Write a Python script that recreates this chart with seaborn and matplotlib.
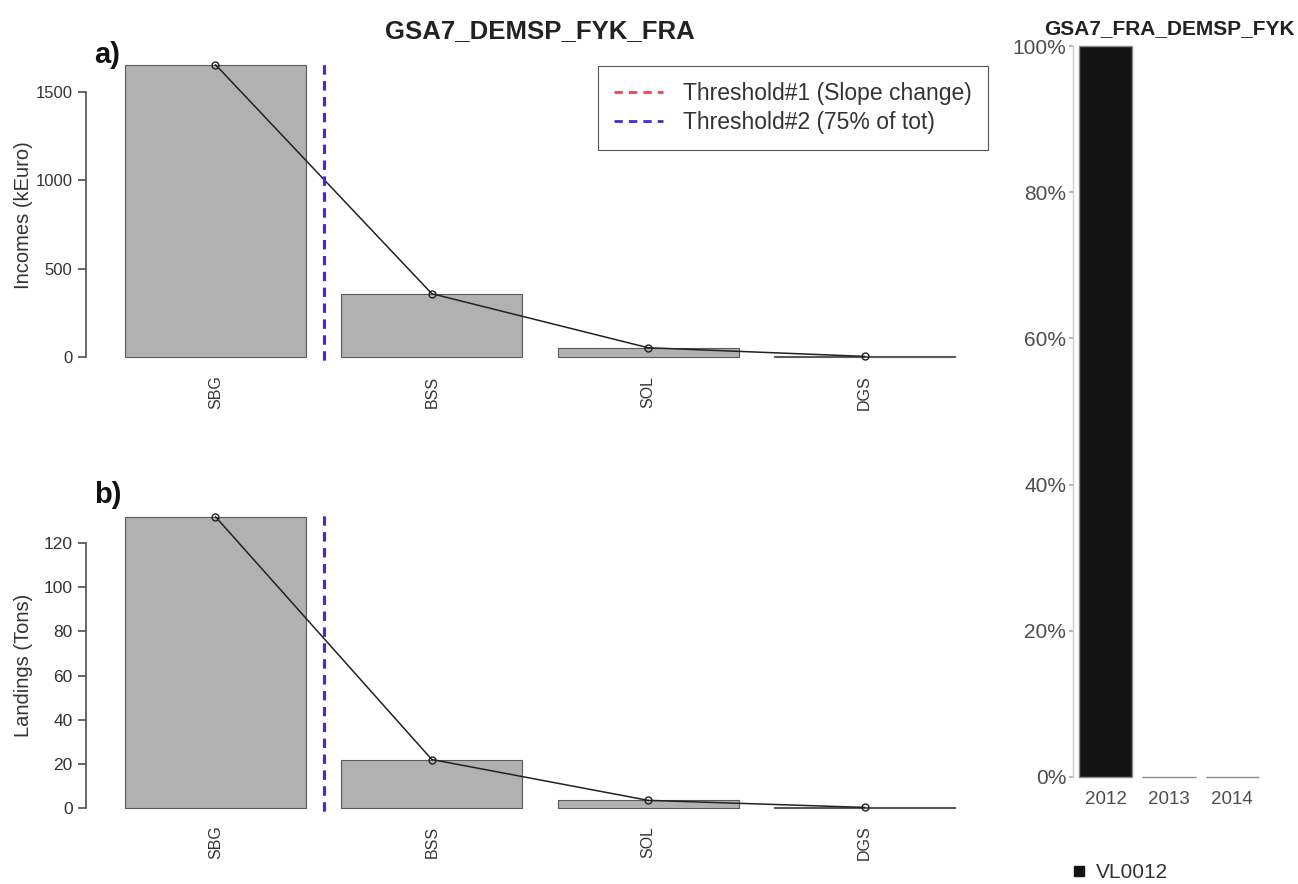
import numpy as np
import matplotlib
matplotlib.use('Agg')
import matplotlib.pyplot as plt
import seaborn as sns
from matplotlib.lines import Line2D

# data
species = ['SBG', 'BSS', 'SOL', 'DGS']
incomes = [1655, 358, 52, 3]        # kEuro
landings = [132, 22, 3.5, 0.3]      # Tons
years = ['2012', '2013', '2014']
share_vl0012 = [1.0, 0.0, 0.0]
threshold_pos = 0.5                 # between SBG and BSS

sns.set_theme(style='white')
plt.rcParams['font.family'] = ['Liberation Sans', 'DejaVu Sans']

fig = plt.figure(figsize=(12.98, 8.84), dpi=100)
W, H = 1298, 884

def fig_rect(x0, y0, x1, y1):
    return [x0 / W, 1 - y1 / H, (x1 - x0) / W, (y1 - y0) / H]

ax_a = fig.add_axes(fig_rect(110, 60, 970, 370))
ax_b = fig.add_axes(fig_rect(110, 510, 970, 820))
ax_c = fig.add_axes(fig_rect(1073, 46, 1265, 777))

bar_grey = '#b1b1b1'
dash = (0, (3, 2.2))

def species_panel(ax, vals, ylabel, ylim, ticks, vspan, tick_fs, lpad):
    sns.barplot(x=species, y=vals, ax=ax, color=bar_grey, saturation=1,
                width=0.835, edgecolor='#5a5a5a', linewidth=0.8)
    ax.plot(np.arange(len(species)), vals, color='#222222', lw=1.1,
            marker='o', ms=5, mfc='none', mec='#222222', mew=1)
    ax.vlines(threshold_pos, vspan[0], vspan[1], color='#e8474f', ls=dash, lw=2.2)
    ax.vlines(threshold_pos, vspan[0], vspan[1], color='#3b2fd6', ls=dash, lw=2.2)
    ax.set_xlim(-0.487, 3.487)
    ax.set_ylim(*ylim)
    ax.set_yticks(ticks)
    for s in ['top', 'right', 'bottom']:
        ax.spines[s].set_visible(False)
    ax.spines['left'].set_position(('outward', 17))
    ax.spines['left'].set_bounds(ticks[0], ticks[-1])
    ax.spines['left'].set_color('#555555')
    ax.tick_params(axis='y', left=True, length=6, color='#555555',
                   labelsize=tick_fs, labelcolor='#333333', pad=4)
    ax.tick_params(axis='x', bottom=False, labelsize=11.5,
                   labelcolor='#333333', pad=-2)
    plt.setp(ax.get_xticklabels(), rotation=90)
    ax.set_xlabel('')
    ax.set_ylabel(ylabel, fontsize=14.5, color='#333333', labelpad=lpad)
    ax.grid(False)

species_panel(ax_a, incomes, 'Incomes (kEuro)', (-74, 1681),
              [0, 500, 1000, 1500], (-20, 1660), 12, 2)
species_panel(ax_b, landings, 'Landings (Tons)', (-5.4, 135),
              [0, 20, 40, 60, 80, 100, 120], (-1.5, 132.5), 12.5, 7.5)

leg_handles = [Line2D([0], [0], color='#e8474f', ls=dash, lw=2),
               Line2D([0], [0], color='#3b2fd6', ls=dash, lw=2)]
leg = ax_a.legend(leg_handles,
                  ['Threshold#1 (Slope change)', 'Threshold#2 (75% of tot)'],
                  loc='upper right', bbox_to_anchor=(988 / W, 1 - 66 / H),
                  bbox_transform=fig.transFigure, fontsize=16.5,
                  frameon=True, fancybox=False, framealpha=1,
                  edgecolor='#555555', handlelength=2.1, handletextpad=0.9,
                  borderpad=0.7, labelspacing=0.25, borderaxespad=0)
leg.get_frame().set_linewidth(0.8)
for t in leg.get_texts():
    t.set_color('#333333')

fig.text(94 / W, 1 - 55 / H, 'a)', fontsize=21, fontweight='bold',
         ha='left', va='center', color='#111111')
fig.text(94 / W, 1 - 495 / H, 'b)', fontsize=21, fontweight='bold',
         ha='left', va='center', color='#111111')
fig.text(540 / W, 1 - 31 / H, 'GSA7_DEMSP_FYK_FRA', fontsize=18.5,
         fontweight='bold', ha='center', va='center', color='#222222')

# right panel: fleet segment share per year
sns.barplot(x=years, y=share_vl0012, ax=ax_c, color='#141414', saturation=1,
            width=0.84, edgecolor='#8a8a8a', linewidth=1.0)
for p in ax_c.patches:
    p.set_clip_on(False)
ax_c.set_xlim(-0.52, 2.52)
ax_c.set_ylim(0, 1)
ax_c.set_yticks([0, 0.2, 0.4, 0.6, 0.8, 1.0])
ax_c.set_yticklabels(['0%', '20%', '40%', '60%', '80%', '100%'])
for s in ['top', 'right', 'bottom']:
    ax_c.spines[s].set_visible(False)
ax_c.spines['left'].set_color('#d0d0d0')
ax_c.spines['left'].set_linewidth(1)
ax_c.tick_params(axis='y', left=True, length=3, color='#aaaaaa',
                 labelsize=15, labelcolor='#4d4d4d', pad=2)
ax_c.tick_params(axis='x', bottom=False, labelsize=13.5,
                 labelcolor='#4d4d4d', pad=4)
ax_c.set_xlabel('')
ax_c.set_ylabel('')
ax_c.grid(False)
fig.text(1169 / W, 1 - 29 / H, 'GSA7_FRA_DEMSP_FYK', fontsize=15,
         fontweight='bold', ha='center', va='center', color='#222222')

seg_handle = [Line2D([0], [0], marker='s', color='none', mfc='#141414',
                     mec='#141414', ms=6.5)]
fig.legend(seg_handle, ['VL0012'], loc='center left',
           bbox_to_anchor=(1071 / W, 1 - 873 / H), frameon=False,
           fontsize=15, handlelength=0.8, handletextpad=0.4,
           labelcolor='#333333', borderaxespad=0, borderpad=0)

fig.savefig('out.png', dpi=100)
